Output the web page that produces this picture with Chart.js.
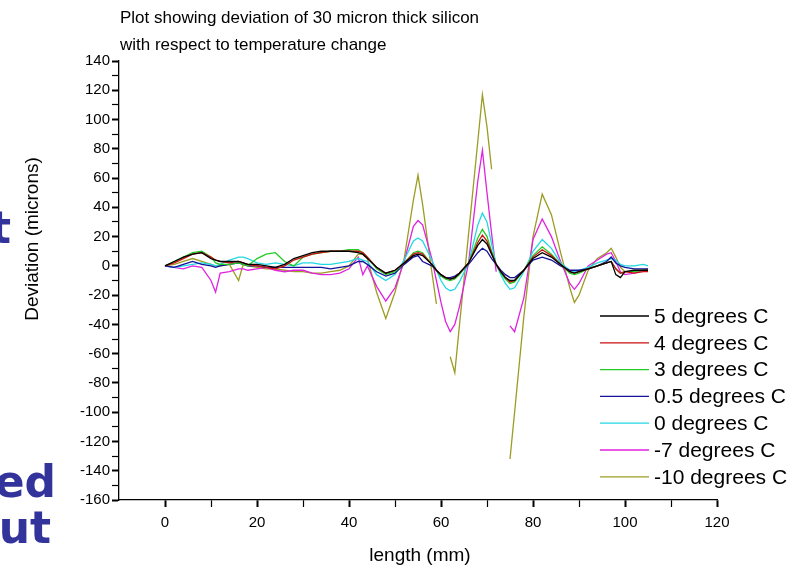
<!DOCTYPE html>
<html>
<head>
<meta charset="utf-8">
<script src="https://cdn.jsdelivr.net/npm/chart.js@4/dist/chart.umd.min.js"></script>
<style>
  html, body { margin: 0; padding: 0; background: #fff; }
  #wrap { position: relative; width: 805px; height: 568px; }
</style>
</head>
<body>
<div id="wrap"><canvas id="chart-deviation" width="805" height="568"></canvas></div>
<script>
// deviation of 30 micron silicon vs temperature
const TITLE_LINES = ['Plot showing deviation of 30 micron thick silicon', 'with respect to temperature change'];
const X_TITLE = 'length (mm)';
const Y_TITLE = 'Deviation (microns)';

const LENGTHS = [0, 2, 4, 6, 8, 10, 11, 12, 14, 16,
    17, 18, 20, 22, 24, 26, 28, 30, 32, 34,
    36, 38, 40, 42, 43, 44, 46, 48, 50, 52,
    54, 55, 56, 58, 59, 60, 61, 62, 63, 64,
    66, 68, 69, 70, 71, 72, 73, 74, 75, 76,
    78, 80, 82, 84, 86, 88, 89, 90, 92, 94,
    96, 97, 98, 99, 100, 102, 104, 105];

const DEV_5C = [0, 3, 6, 8, 9, 5, 4, 3, 3, 3,
    2, 1, 1, 0, -1, 1, 5, 7, 9, 10,
    10, 10, 10, 9, 8, 5, -1, -5, -3, 2,
    7, 8, 7, 1, -3, -6, -8, -9, -8, -5,
    2, 14, 18, 15, 8, 1, -4, -8, -10, -10,
    -3, 5, 9, 6, 1, -4, -5, -4, -2, 0,
    2, 3, -6, -8, -4, -3, -3, -3];

const DEV_4C = [0, 2, 5, 8, 9, 6, 4, 3, 2, 3,
    2, 1, 0, -1, -2, 0, 4, 6, 8, 9,
    10, 10, 10, 10, 9, 6, -1, -5, -3, 2,
    8, 9, 8, 1, -3, -6, -8, -9, -8, -5,
    2, 16, 21, 17, 9, 1, -4, -8, -11, -10,
    -3, 6, 11, 7, 1, -4, -5, -4, -2, 0,
    2, 3, -2, -5, -4, -5, -4, -4];

const DEV_3C = [0, 3, 6, 9, 10, 6, 2, 1, 1, 2,
    1, 0, 5, 8, 9, 3, 0, 6, 8, 9,
    10, 10, 11, 11, 9, 6, -2, -6, -4, 2,
    9, 10, 9, 1, -3, -7, -9, -10, -9, -6,
    2, 19, 25, 20, 10, 1, -5, -9, -12, -11,
    -3, 7, 13, 8, 1, -5, -6, -5, -2, 0,
    2, 3, -2, -5, -4, -4, -3, -3];

const DEV_05C = [0, -1, 1, 3, 1, 0, -1, 0, 1, 2,
    1, 0, 0, -1, -1, -1, -1, -1, -1, -1,
    -2, -1, 0, 3, 3, 1, -4, -7, -5, 1,
    6, 7, 3, 0, -3, -7, -8, -8, -7, -5,
    1, 9, 12, 10, 5, 1, -3, -6, -8, -8,
    -3, 4, 6, 4, 0, -3, -3, -3, -2, 0,
    3, 6, 2, 0, -1, -2, -2, -2];

const DEV_0C = [0, -1, 0, 1, 2, 1, 0, 1, 4, 6,
    6, 5, 2, 1, 2, 1, 0, 2, 2, 1,
    1, 2, 3, 5, 4, 3, -6, -10, -6, 4,
    17, 19, 17, 4, -3, -10, -15, -17, -16, -11,
    2, 28, 36, 30, 15, 1, -6, -12, -16, -15,
    -4, 10, 18, 12, 2, -3, -4, -3, -1, 2,
    4, 5, 4, 1, 0, 0, 1, 0];

const DEV_M7C = [0, -1, -2, 0, -1, -10, -18, -5, -4, -2,
    -2, -3, -2, -1, -3, -4, -3, -3, -5, -6,
    -6, -5, -2, 6, -6, 0, -14, -24, -15, 3,
    27, 31, 28, 5, -10, -25, -38, -45, -40, -28,
    2, 58, 79, 50, 22, -4, null, null, -41, -45,
    -22, 18, 32, 20, 3, -12, -16, -12, 0, 4,
    8, 9, 3, -4, -6, -5, -3, -2];

const DEV_M10C = [0, 1, 3, 5, 3, 1, 0, 0, 1, -10,
    1, 0, -1, -2, -2, -3, -4, -4, -5, -5,
    -4, -3, 0, 8, 8, 5, -18, -36, -18, 5,
    45, 62, 42, -4, -26, null, null, -62, -73, -41,
    22, 85, 117, 95, 66, null, null, null, -132, -100,
    -35, 20, 49, 35, 9, -15, -25, -20, -3, 5,
    9, 12, 6, -1, -4, -4, -3, -3];

const SERIES_LABELS = ['5 degrees C', '4 degrees C', '3 degrees C', '0.5 degrees C', '0 degrees C', '-7 degrees C', '-10 degrees C'];
const SERIES_VALUES = [DEV_5C, DEV_4C, DEV_3C, DEV_05C, DEV_0C, DEV_M7C, DEV_M10C];
const SERIES_COLORS = ['#000000', '#cc1111', '#22cc22', '#12129a', '#22d8e4', '#e022e0', '#9c9c22'];

const SIDE_TEXT = [
    { text: 't', right: 11, base: 243 },
    { text: 'ed', right: 56, base: 497 },
    { text: 'ut', right: 51, base: 543 },
];

const FONT = '"Liberation Sans", Arial, sans-serif';

const overlayPlugin = {
    id: 'overlay',
    afterDraw(chart) {
        const c = chart.ctx;
        c.save();
        c.fillStyle = '#000';
        c.textAlign = 'left';
        c.textBaseline = 'middle';
        c.font = '17px ' + FONT;
        TITLE_LINES.forEach((t, i) => c.fillText(t, 120, 18 + i * 27));

        c.font = '19px ' + FONT;
        c.textAlign = 'center';
        c.fillText(X_TITLE, 420, 556);
        c.save();
        c.translate(33, 239);
        c.rotate(-Math.PI / 2);
        c.fillText(Y_TITLE, 0, 0);
        c.restore();

        // legend
        c.font = '21px ' + FONT;
        c.textAlign = 'left';
        chart.data.datasets.forEach((ds, i) => {
            const y = 316 + i * 26.8;
            c.strokeStyle = ds.borderColor;
            c.lineWidth = 1.3;
            c.beginPath();
            c.moveTo(600, y);
            c.lineTo(649, y);
            c.stroke();
            c.fillStyle = '#000';
            c.fillText(ds.label, 654, y + 1);
        });

        // clipped slide text on the left
        c.font = 'bold 44px "DejaVu Sans", sans-serif';
        c.fillStyle = '#33339c';
        c.textAlign = 'right';
        c.textBaseline = 'alphabetic';
        SIDE_TEXT.forEach(s => c.fillText(s.text, s.right, s.base));
        c.restore();
    },
};

const ctx = document.getElementById('chart-deviation').getContext('2d');
new Chart(ctx, {
    type: 'line',
    data: {
        datasets: SERIES_VALUES.map((vals, i) => ({
            label: SERIES_LABELS[i],
            data: LENGTHS.map((x, j) => ({ x, y: vals[j] })),
            borderColor: SERIES_COLORS[i],
            backgroundColor: SERIES_COLORS[i],
            borderWidth: 1.3,
            pointRadius: 0,
            tension: 0,
            spanGaps: false,
            fill: false,
        })),
    },
    plugins: [overlayPlugin],
    options: {
        responsive: false,
        animation: false,
        layout: { padding: { top: 61, right: 88, bottom: 0, left: 0 } },
        plugins: {
            legend: { display: false },
            title: { display: false },
            tooltip: { enabled: false },
        },
        scales: {
            x: {
                type: 'linear',
                min: -10,
                max: 120,
                afterFit: s => { s.height = 68; },
                border: { color: '#000', width: 1.3 },
                grid: {
                    drawOnChartArea: false,
                    tickLength: 7,
                    tickColor: c => (c.tick && c.tick.value === -10 ? 'rgba(0,0,0,0)' : '#000'),
                    tickWidth: c => (c.tick && c.tick.value % 20 === 0 ? 2 : 1.2),
                },
                ticks: {
                    stepSize: 10,
                    autoSkip: false,
                    maxRotation: 0,
                    padding: 7,
                    color: '#000',
                    font: { family: FONT, size: 15 },
                    callback: v => (v >= 0 && v % 20 === 0 ? v : ''),
                },
            },
            y: {
                type: 'linear',
                min: -160,
                max: 140,
                afterFit: s => { s.width = 119; },
                border: { color: '#000', width: 1.3 },
                grid: {
                    drawOnChartArea: false,
                    tickLength: 7,
                    tickColor: '#000',
                    tickWidth: c => (c.tick && c.tick.value % 20 === 0 ? 2 : 1.2),
                },
                ticks: {
                    stepSize: 10,
                    autoSkip: false,
                    padding: 2,
                    color: '#000',
                    font: { family: FONT, size: 15 },
                    callback: v => (v % 20 === 0 ? v : ''),
                },
            },
        },
    },
});
</script>
</body>
</html>
